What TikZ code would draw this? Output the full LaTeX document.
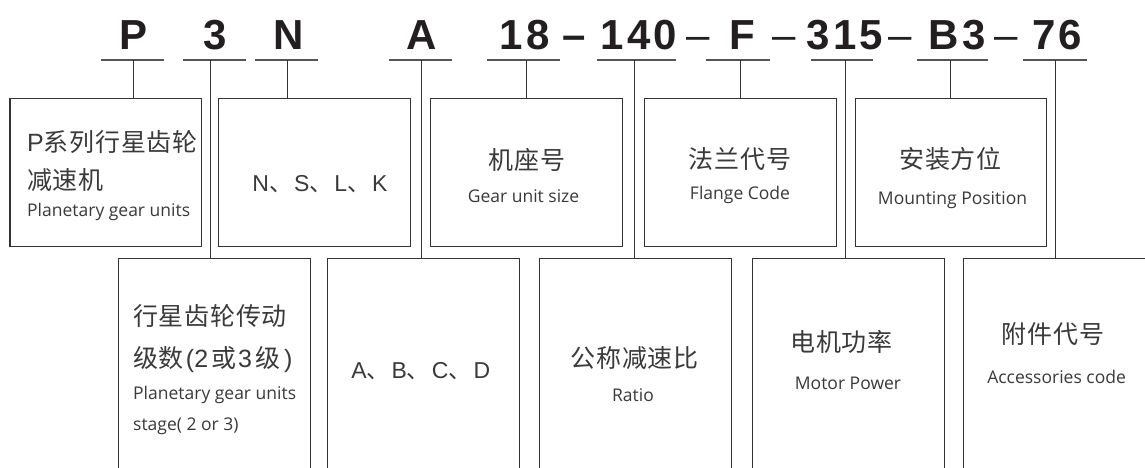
\documentclass[tikz,border=0pt]{standalone}
\usepackage{fontspec}
\newfontfamily\codefont[LetterSpace=8]{Liberation Sans}
\newfontfamily\arialf{Liberation Sans}
\newfontfamily\zh[LetterSpace=3]{Noto Sans CJK SC}
\newfontfamily\en{Open Sans}
\definecolor{ink}{HTML}{231F20}
\definecolor{txtc}{HTML}{3A3A3A}
\definecolor{linec}{HTML}{333333}
\definecolor{ulc}{HTML}{555555}
\tikzset{
 code/.style={inner sep=0, anchor=base, text=ink, font=\codefont\bfseries\fontsize{42}{48}\selectfont},
 sepdash/.style={inner sep=0, anchor=base, text=ink, font=\arialf\fontsize{42}{48}\selectfont},
 sepdashb/.style={inner sep=0, anchor=base, text=ink, font=\arialf\bfseries\fontsize{42}{48}\selectfont},
 uline/.style={draw=ulc, line width=1.4pt},
 conn/.style={draw=linec, line width=1pt},
 topbox/.style={draw=linec, line width=1.2pt, minimum width=191.5pt, minimum height=148.4pt, inner sep=0},
 botbox/.style={draw=none, minimum width=191.5pt, minimum height=221.3pt, inner sep=0},
 botline/.style={draw=linec, line width=1.2pt},
 zhtxt/.style={inner sep=0, text=txtc, font=\zh\fontsize{25}{30}\selectfont},
 entxt/.style={inner sep=0, text=txtc, font=\en\fontsize{17.5}{21}\selectfont},
 lattxt/.style={inner sep=0, text=txtc, font=\arialf\fontsize{23}{27}\selectfont},
}
\begin{document}
\begin{tikzpicture}[x=1pt,y=-1pt]
\useasboundingbox (0,0) rectangle (1145,468);
\clip (0,0) rectangle (1145,468);
\fill[white] (0,0) rectangle (1145,468);

% code string
\node[code] (cP) at (133.3,49.3) {P};
\node[code] (c3) at (215.3,49.3) {3};
\node[code] (cN) at (288.3,49.3) {N};
\node[code] (cA) at (421.3,49.3) {A};
\node[code] (c18) at (524.5,49.3) {18};
\node[sepdashb] (d1) at (573.8,49.3) {–};
\node[code] (c140) at (639,49.3) {140};
\node[sepdash] (d2) at (697.7,49.3) {–};
\node[code] (cF) at (742,49.3) {F};
\node[sepdash] (d3) at (783.7,49.3) {–};
\node[code] (c315) at (844.8,49.3) {315};
\node[sepdash] (d4) at (900,49.3) {–};
\node[code] (cB3) at (957,49.3) {B3};
\node[sepdash] (d5) at (1006,49.3) {–};
\node[code] (c76) at (1057.3,49.3) {76};

% top boxes
\node[topbox] (t1) at (105.65,172.5) {};
\node[topbox] (t2) at (314.5,172.5) {};
\node[topbox] (t3) at (526.5,172.5) {};
\node[topbox] (t4) at (740.5,172.5) {};
\node[topbox] (t5) at (950.85,172.5) {};

% bottom boxes (open at the bottom)
\node[botbox] (b1) at (214.5,369.35) {};
\node[botbox] (b2) at (423.5,369.35) {};
\node[botbox] (b3) at (635.15,369.35) {};
\node[botbox] (b4) at (848.65,369.35) {};
\node[botbox] (b5) at (1059.45,369.35) {};
\foreach \b in {b1,b2,b3,b4,b5}
  \draw[botline] (\b.south west) -- (\b.north west) -- (\b.north east) -- (\b.south east);

% underlines and connectors
\foreach \n/\l/\r/\v/\t in {P/101/164/133.3/t1, 3/183/246/210/b1, N/255/318/287/t2,
    A/389/451.7/421/b2, 18/486.7/560/526.7/t3, 140/597.3/676/634/b3,
    F/705.7/770/740/t4, 315/810.7/873.3/845/b4, B3/917.3/988.3/950.7/t5,
    76/1023.3/1086.7/1055/b5} {
  \coordinate (u\n l) at (\l,60);
  \coordinate (u\n r) at (\r,60);
  \coordinate (u\n) at (\v,60);
  \draw[uline] (u\n l) -- (u\n r);
  \draw[conn] (u\n) -- (u\n |- \t.north);
}

% texts, top row
\node[zhtxt, anchor=base west] (t1a) at (27,151.2) {{\arialf P}系列行星齿轮};
\node[zhtxt, anchor=base west] (t1b) at (27,189.5) {减速机};
\node[entxt, anchor=base west] (t1c) at (27,216.7) {Planetary gear units};
\node[lattxt, anchor=base] (t2a) at (320,191.2) {N{\zh 、}\kern2pt S{\zh 、}\kern2pt L{\zh 、}\kern2pt K};
\node[zhtxt, anchor=base] (t3a) at (527,169.5) {机座号};
\node[entxt, anchor=base] (t3b) at (523.5,202.7) {Gear unit size};
\node[zhtxt, anchor=base] (t4a) at (740,168.8) {法兰代号};
\node[entxt, anchor=base] (t4b) at (740,199.3) {Flange Code};
\node[zhtxt, anchor=base] (t5a) at (950.5,168.5) {安装方位};
\node[entxt, anchor=base] (t5b) at (952.5,204.3) {Mounting Position};

% texts, bottom row
\node[zhtxt, anchor=base west] (b1a) at (133,325.5) {行星齿轮传动};
\node[zhtxt, anchor=base west] (b1b) at (133,367.8) {级数\kern2pt{\arialf(2}\kern3pt 或\kern2pt{\arialf 3}\kern3pt 级\kern4pt{\arialf)}};
\node[entxt, anchor=base west] (b1c) at (133,399) {Planetary gear units};
\node[entxt, anchor=base west] (b1d) at (133,430) {stage( 2 or 3)};
\node[lattxt, anchor=base] (b2a) at (420.7,378) {A{\zh 、}\kern2pt B{\zh 、}\kern2pt C{\zh 、}\kern2pt D};
\node[zhtxt, anchor=base] (b3a) at (634.6,367.8) {公称减速比};
\node[entxt, anchor=base] (b3b) at (633,401.7) {Ratio};
\node[zhtxt, anchor=base] (b4a) at (841.6,351.2) {电机功率};
\node[entxt, anchor=base] (b4b) at (848,389) {Motor Power};
\node[zhtxt, anchor=base] (b5a) at (1053,343.5) {附件代号};
\node[entxt, anchor=base] (b5b) at (1056.6,383) {Accessories code};
\end{tikzpicture}
\end{document}
